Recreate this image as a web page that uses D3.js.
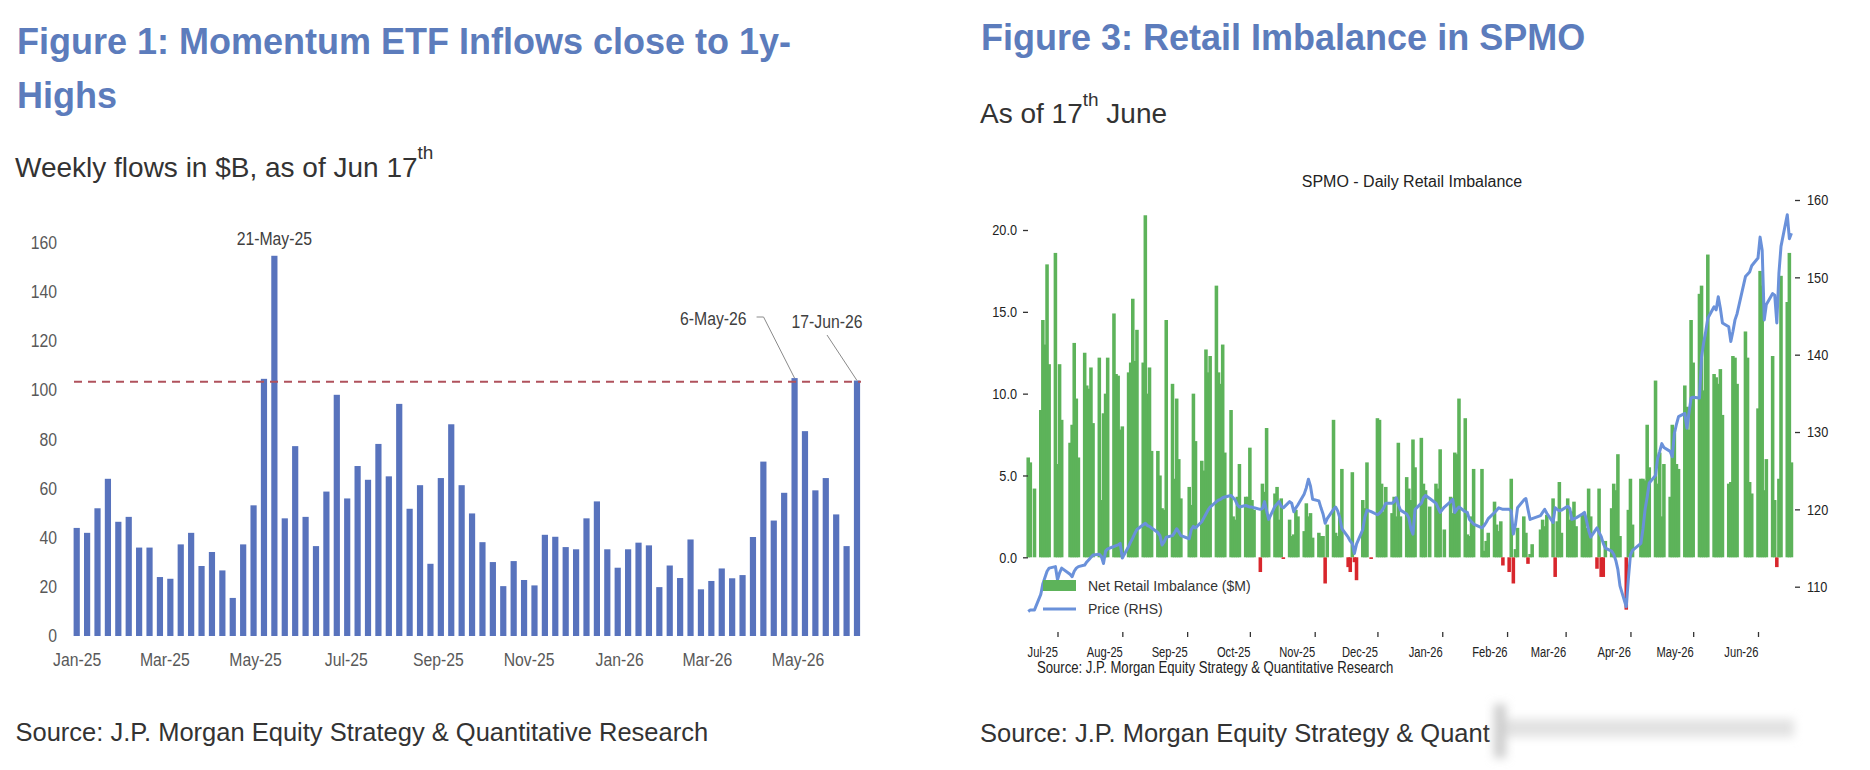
<!DOCTYPE html>
<html>
<head>
<meta charset="utf-8">
<script src="https://cdn.jsdelivr.net/npm/d3@7"></script>
<style>
  body { margin: 0; background: #fff; }
  svg { display: block; font-family: "Liberation Sans", Arial, sans-serif; }
</style>
</head>
<body>
<svg id="page" width="1870" height="770"></svg>
<script>
// ---------- Figure 1: weekly momentum ETF flows ($B), weeks ending 8-Jan-25 .. 17-Jun-26
const flowStart = "2025-01-08";
const weeklyFlows = [
  44, 42, 52, 64, 46.5, 48.5, 36, 36, 24, 23.3,
  37.3, 42, 28.5, 34.2, 26.7, 15.5, 37.3, 53.2, 104.7, 154.8,
  47.9, 77.3, 48.5, 36.6, 58.8, 98.2, 56, 69.2, 63.6, 78.2,
  65, 94.5, 51.8, 61.4, 29.4, 64.3, 86.2, 61.4, 49.9, 38.2,
  30.1, 20.3, 30.5, 22.8, 20.6, 41.2, 40.4, 36.2, 35.3, 47.9,
  54.8, 35.3, 27.8, 35.3, 38, 36.9, 19.9, 28.7, 23.6, 39.3,
  19, 22.4, 27.5, 23.5, 24.8, 40.3, 71, 47, 58.3, 105,
  83.4, 59.3, 64.3, 49.5, 36.6, 104
];
const flowMonthTicks = ["2025-01-01","2025-03-01","2025-05-01","2025-07-01","2025-09-01",
  "2025-11-01","2026-01-01","2026-03-01","2026-05-01"];
const flowYTicks = [0, 20, 40, 60, 80, 100, 120, 140, 160];
const highLevel = 103.5;

// ---------- Figure 3: SPMO daily net retail imbalance ($M) and price, 17-Jun-25 .. 17-Jun-26
const marketHolidays = ["2025-06-19","2025-07-04","2025-09-01","2025-11-27","2025-12-25",
  "2026-01-01","2026-01-19","2026-02-16","2026-04-03","2026-05-25"];
// one line per trading week
const imbalance = [
  6.1, 5.8, 4.2,
  9.0, 14.5, 13.0, 17.9, 11.8,
  18.6, 5.7, 11.8, 8.4,
  7.0, 8.1, 13.1, 9.7, 6.1,
  12.5, 10.5, 10.3, 11.6, 8.2,
  12.2, 3.5, 8.8, 10.0, 12.2,
  14.9, 11.2, 11.1, 7.8, 8.0,
  11.3, 11.9, 15.8, 12.0, 13.9,
  11.9, 20.9, 10.0, 11.6, 6.5,
  6.5, 5.0, 3.0, 2.9, 14.5,
  10.6, 4.8, 9.7, 6.0, 3.6,
  4.3, 3.2, 10.0, 7.1,
  5.9, 5.3, 12.7, 11.3, 12.3,
  16.6, 11.3, 10.6, 13.0, 6.4,
  9.0, 2.5, 2.3, 3.7, 5.7,
  3.7, 3.7, 6.7, 3.5, 2.9,
  -0.9, 4.5, 4.0, 7.9, 2.6,
  3.9, 4.3, 2.3, 3.6, -0.1,
  2.3, 1.3, 1.4, 2.9, 2.5,
  1.6, 3.3, 2.5, 2.7, 1.2,
  1.5, 1.3, 1.3, -1.6, 2.0,
  8.4, 1.5, 1.3, 2.5, 5.4,
  -0.6, -0.9, 5.2, -0.3, -1.4,
  3.5, 3.0, 5.8, -0.1,
  8.5, 8.4, 4.5, 2.8, 4.3,
  2.7, 3.7, 2.5, 7.0, 2.5,
  4.9, 4.2, 3.5, 7.2, 5.5,
  7.3, 4.5, 4.1, 3.1,
  4.5, 4.2, 6.6, 1.7,
  3.7, 2.7, 6.4, 6.3, 9.7,
  8.5, 1.4, 1.3, 2.5, 5.4,
  5.4, 0.4, 1.0, 1.5,
  3.4, 2.0, 1.6, 2.2, -0.5,
  -0.9, 4.8, -1.6, 0.5, 1.8,
  2.5, 1.5, -0.4, 0.2, 0.8,
  1.7, 2.3, 1.9, 2.6,
  3.6, -1.2, 2.2, 4.6, 1.5,
  3.6, 2.3, 2.8, 3.4, 1.9,
  2.6, 2.6, 1.8, 4.2, 2.5,
  -0.7, 4.2, -1.2, -1.2, 1.0,
  3.0, 4.5, 4.1, 6.3, 1.3,
  -3.2, 2.9, 4.8, 2.0,
  4.8, 4.8, 4.7, 8.1, 5.5,
  10.8, 4.5, 6.4, 2.5, 5.7,
  3.7, 8.1, 7.6, 5.7, 5.4,
  10.5, 9.2, 7.8, 14.5, 11.9,
  16.1, 16.6, 10.2, 13.5, 18.5,
  11.2, 11.0, 10.6, 11.5, 8.7,
  4.5, 4.6, 12.3, 12.2, 10.6,
  13.8, 12.2, 4.6, 3.9,
  9.1, 17.5, 16.6, 4.1, 6.0,
  12.3, 3.5, -0.6, 4.8, 17.2,
  15.6, 18.6, 5.8
];
const spmoPrice = [
  106.8, 107.0, 107.0,
  109.0, 110.4, 111.2, 112.0, 112.4,
  112.6, 110.9, 111.8, 112.4,
  111.6, 111.3, 112.0, 112.4, 112.6,
  112.8, 113.2, 113.5, 113.8, 114.1,
  114.2, 113.9, 113.0, 114.6, 114.9,
  115.2, 115.3, 115.4, 115.6, 113.7,
  115.2, 115.8, 116.3, 116.9, 117.4,
  118.0, 118.2, 117.9, 117.8, 117.6,
  117.0, 116.6, 115.4, 115.8, 116.4,
  116.6, 117.0, 117.5, 117.1, 116.6,
  116.2, 117.4, 117.8, 117.6,
  118.4, 118.9, 119.4, 119.9, 120.3,
  121.0, 121.2, 121.3, 121.5, 121.6,
  121.8, 121.5, 121.2, 120.6, 120.3,
  120.5, 120.4, 120.3, 120.3, 120.2,
  120.0, 120.1, 121.0, 119.8, 118.7,
  120.4, 120.7, 121.0, 120.4, 120.2,
  121.0, 120.8, 119.7, 120.2, 120.6,
  122.0, 122.8, 123.9, 123.0, 121.3,
  121.1, 120.2, 119.4, 118.2, 118.8,
  120.0, 120.3, 119.8, 118.9, 117.5,
  116.4, 115.9, 115.6, 114.3, 115.5,
  117.4, 119.0, 119.9, 119.7,
  119.3, 119.5, 119.8, 120.2, 120.8,
  120.8, 121.0, 121.5, 120.6, 119.9,
  119.4, 118.9, 117.5, 116.8, 120.0,
  120.8, 121.5, 121.8, 121.4,
  120.8, 120.2, 119.6, 120.3,
  121.0, 121.3, 119.6, 120.0, 120.3,
  119.7, 119.6, 118.7, 118.4, 118.1,
  117.6, 117.9, 118.3, 118.8,
  119.6, 119.9, 120.2, 120.1, 120.0,
  120.0, 119.8, 116.8, 118.0, 120.2,
  121.2, 121.4, 120.0, 118.7, 118.8,
  119.2, 119.6, 120.0, 119.5,
  118.3, 120.2, 120.0, 119.8, 119.9,
  120.4, 120.1, 118.7, 118.8, 118.9,
  119.4, 119.6, 118.5, 117.3, 116.4,
  117.6, 117.0, 116.5, 115.6, 115.0,
  114.6, 114.2, 113.4, 112.2, 110.1,
  107.4, 111.0, 114.1, 114.7,
  115.6, 117.5, 120.0, 121.6, 123.4,
  124.4, 126.6, 127.5, 128.5, 128.0,
  127.5, 126.8, 129.8, 131.0, 132.0,
  132.4, 130.5, 132.5, 134.4, 134.5,
  134.4, 139.7, 141.5, 143.0, 144.7,
  146.2, 145.8, 147.5, 146.0, 144.1,
  143.6, 141.7, 143.0, 144.5, 145.3,
  150.1, 150.4, 150.7, 151.5,
  152.5, 155.2, 153.5, 144.5, 146.5,
  147.9, 147.7, 144.1, 150.5, 154.0,
  158.1, 155.0, 155.7
];
const imbalanceTicks = [0, 5, 10, 15, 20];
const priceTicks = [110, 120, 130, 140, 150, 160];
const spmoMonthTicks = ["2025-07-01","2025-08-01","2025-09-01","2025-10-01","2025-11-01","2025-12-01",
  "2026-01-01","2026-02-01","2026-03-01","2026-04-01","2026-05-01","2026-06-01"];

// ---------- helpers
const parse = d3.timeParse("%Y-%m-%d");
const fmt = d3.timeFormat("%Y-%m-%d");
const monthFmt = d3.timeFormat("%b-%y");

// the reference uses a narrow face for chart labels; squeeze text to that width
function squeeze(sel, k) {
  sel.each(function() {
    const w = this.getComputedTextLength();
    d3.select(this).attr("textLength", w * k).attr("lengthAdjust", "spacingAndGlyphs");
  });
}

const svg = d3.select("#page");
svg.append("rect").attr("width", 1870).attr("height", 770).attr("fill", "#fff");

const titleBlue = "#5c7cbc";
const ink = "#333";

// ---------- page headings
svg.append("text").attr("x", 17).attr("y", 54)
  .attr("font-size", 36).attr("font-weight", "bold").attr("fill", titleBlue)
  .text("Figure 1: Momentum ETF Inflows close to 1y-");
svg.append("text").attr("x", 17).attr("y", 108)
  .attr("font-size", 36).attr("font-weight", "bold").attr("fill", titleBlue)
  .text("Highs");
let sub1 = svg.append("text").attr("x", 15).attr("y", 177).attr("font-size", 28).attr("fill", ink);
sub1.append("tspan").text("Weekly flows in $B, as of Jun 17");
sub1.append("tspan").attr("font-size", 19).attr("dy", -18).text("th");

svg.append("text").attr("x", 981).attr("y", 50)
  .attr("font-size", 36).attr("font-weight", "bold").attr("fill", titleBlue)
  .text("Figure 3: Retail Imbalance in SPMO");
let sub3 = svg.append("text").attr("x", 980).attr("y", 123).attr("font-size", 28).attr("fill", ink);
sub3.append("tspan").text("As of 17");
sub3.append("tspan").attr("font-size", 19).attr("dy", -17).text("th");
sub3.append("tspan").attr("dy", 17).text(" June");

svg.append("text").attr("x", 15.5).attr("y", 741).attr("font-size", 25.5).attr("fill", ink)
  .text("Source: J.P. Morgan Equity Strategy & Quantitative Research");
svg.append("text").attr("x", 980).attr("y", 742).attr("font-size", 25.5).attr("fill", ink)
  .text("Source: J.P. Morgan Equity Strategy & Quant");

// smeared cut-off at the end of the right source line
const defs = svg.append("defs");
defs.append("filter").attr("id", "smear").attr("x", "-20%").attr("y", "-50%").attr("width", "140%").attr("height", "200%")
  .append("feGaussianBlur").attr("stdDeviation", 5);
const smear = svg.append("g").attr("filter", "url(#smear)");
smear.append("rect").attr("x", 1494).attr("y", 719).attr("width", 300).attr("height", 18).attr("fill", "#e2e2e2");
smear.append("rect").attr("x", 1494).attr("y", 704).attr("width", 12).attr("height", 54).attr("fill", "#cdcdcd");

// ---------- Figure 1 chart
const fx = d3.scaleTime().domain([parse("2025-01-01"), parse("2026-06-10")]).range([76.7, 857]);
const fy = d3.scaleLinear().domain([0, 160]).range([636, 243]);
const flows = weeklyFlows.map((v, i) => ({ end: d3.timeDay.offset(parse(flowStart), 7 * i), v }));
// each bar sits at the start of its week
const barX = d => fx(d3.timeDay.offset(d.end, -7));

const fig1 = svg.append("g");
fig1.append("g").selectAll("rect")
  .data(flows)
  .join("rect")
  .attr("x", d => barX(d) - 3.1)
  .attr("width", 6.2)
  .attr("y", d => fy(d.v))
  .attr("height", d => fy(0) - fy(d.v))
  .attr("fill", "#5873bd");

fig1.append("line")
  .attr("x1", 74).attr("x2", 861)
  .attr("y1", fy(highLevel)).attr("y2", fy(highLevel))
  .attr("stroke", "#b0525c").attr("stroke-width", 2).attr("stroke-dasharray", "8,6");

const fyAxis = fig1.append("g").attr("transform", "translate(57,0)")
  .call(d3.axisLeft(fy).tickValues(flowYTicks).tickSize(0).tickPadding(0))
  .call(g => g.select(".domain").remove());
fyAxis.selectAll("text").attr("font-size", 17.5).attr("fill", "#595959");
squeeze(fyAxis.selectAll("text"), 0.9);

const fxAxis = fig1.append("g").attr("transform", "translate(0,654)")
  .call(d3.axisBottom(fx).tickValues(flowMonthTicks.map(parse)).tickFormat(monthFmt).tickSize(0).tickPadding(0))
  .call(g => g.select(".domain").remove());
fxAxis.selectAll("text").attr("font-size", 17.5).attr("fill", "#595959");
squeeze(fxAxis.selectAll("text"), 0.9);
fig1.selectAll("g").attr("font-family", null);

// annotations
const findWeek = s => flows.find(d => fmt(d.end) === s);
const noteStyle = t => t.attr("font-size", 17.5).attr("fill", "#404040");

const n1 = findWeek("2025-05-21");
squeeze(fig1.append("text").attr("x", barX(n1)).attr("y", 245).attr("text-anchor", "middle")
  .call(noteStyle).text("21-May-25"), 0.9);

const n2 = findWeek("2026-05-06");
squeeze(fig1.append("text").attr("x", barX(n2) - 48).attr("y", 325).attr("text-anchor", "end")
  .call(noteStyle).text("6-May-26"), 0.9);
fig1.append("polyline")
  .attr("points", [[barX(n2) - 38, 317], [barX(n2) - 31, 317], [barX(n2), fy(n2.v)]].join(" "))
  .attr("fill", "none").attr("stroke", "#8a8a8a").attr("stroke-width", 1);

const n3 = findWeek("2026-06-17");
squeeze(fig1.append("text").attr("x", barX(n3) - 30).attr("y", 328).attr("text-anchor", "middle")
  .call(noteStyle).text("17-Jun-26"), 0.9);
fig1.append("line")
  .attr("x1", barX(n3) - 30).attr("y1", 335).attr("x2", barX(n3)).attr("y2", fy(n3.v))
  .attr("stroke", "#8a8a8a").attr("stroke-width", 1);

// ---------- Figure 3 chart
const sessions = d3.timeDay.range(parse("2025-06-17"), parse("2026-06-18"))
  .filter(d => d.getDay() > 0 && d.getDay() < 6 && !marketHolidays.includes(fmt(d)));
const n = Math.min(sessions.length, imbalance.length, spmoPrice.length);
const days = sessions.slice(0, n).map((date, i) => ({ date, v: imbalance[i], p: spmoPrice[i] }));

const sx = d3.scaleTime().domain([parse("2025-07-01"), parse("2026-06-01")]).range([1057.5, 1758]);
const yL = d3.scaleLinear().domain([0, 20]).range([557.3, 230]);
const yR = d3.scaleLinear().domain([110, 160]).range([586.7, 200]);
const dayW = sx(parse("2025-07-02")) - sx(parse("2025-07-01"));
const bw = dayW * 1.7;

const fig3 = svg.append("g");
fig3.append("text").attr("x", 1412).attr("y", 187).attr("text-anchor", "middle")
  .attr("font-size", 16).attr("fill", "#222").text("SPMO - Daily Retail Imbalance");

fig3.append("g").selectAll("rect")
  .data(days)
  .join("rect")
  .attr("x", d => sx(d.date) - bw / 2)
  .attr("width", bw)
  .attr("y", d => yL(Math.max(0, d.v)))
  .attr("height", d => Math.abs(yL(d.v) - yL(0)))
  .attr("fill", d => d.v >= 0 ? "#5db35a" : "#d8262c");

const priceBlue = "#6a91da";
fig3.append("path")
  .datum(days)
  .attr("d", d3.line().x(d => sx(d.date)).y(d => yR(d.p)))
  .attr("fill", "none").attr("stroke", priceBlue).attr("stroke-width", 3)
  .attr("stroke-linejoin", "round");

const axL = fig3.append("g").attr("transform", "translate(1028,0)")
  .call(d3.axisLeft(yL).tickValues(imbalanceTicks).tickFormat(d3.format(".1f")).tickSize(5).tickPadding(6))
  .call(g => g.select(".domain").remove());
const axR = fig3.append("g").attr("transform", "translate(1795,0)")
  .call(d3.axisRight(yR).tickValues(priceTicks).tickSize(5).tickPadding(7))
  .call(g => g.select(".domain").remove());
const axB = fig3.append("g").attr("transform", "translate(0,632)")
  .call(d3.axisBottom(sx).tickValues(spmoMonthTicks.map(parse)).tickFormat(monthFmt).tickSize(5).tickPadding(9))
  .call(g => g.select(".domain").remove());
axB.selectAll("text").attr("text-anchor", "end");

[axL, axR, axB].forEach(ax => {
  ax.attr("font-family", null);
  ax.selectAll("line").attr("stroke", "#333").attr("stroke-width", 1.3);
  ax.selectAll("text").attr("font-size", 15.5).attr("fill", "#222");
});
squeeze(axL.selectAll("text"), 0.82);
squeeze(axR.selectAll("text"), 0.82);
squeeze(axB.selectAll("text"), 0.72);

// legend
const lg = fig3.append("g");
lg.append("rect").attr("x", 1043).attr("y", 580).attr("width", 33).attr("height", 11).attr("fill", "#5db35a");
lg.append("text").attr("x", 1088).attr("y", 591).attr("font-size", 14).attr("fill", "#333")
  .text("Net Retail Imbalance ($M)");
lg.append("line").attr("x1", 1043).attr("x2", 1076).attr("y1", 609).attr("y2", 609)
  .attr("stroke", priceBlue).attr("stroke-width", 3);
lg.append("text").attr("x", 1088).attr("y", 614).attr("font-size", 14).attr("fill", "#333")
  .text("Price (RHS)");

squeeze(fig3.append("text").attr("x", 1037).attr("y", 673).attr("font-size", 16).attr("fill", "#222")
  .text("Source: J.P. Morgan Equity Strategy & Quantitative Research"), 0.82);

if (sessions.length !== imbalance.length || sessions.length !== spmoPrice.length) {
  console.warn("length mismatch", sessions.length, imbalance.length, spmoPrice.length);
}
</script>
</body>
</html>
